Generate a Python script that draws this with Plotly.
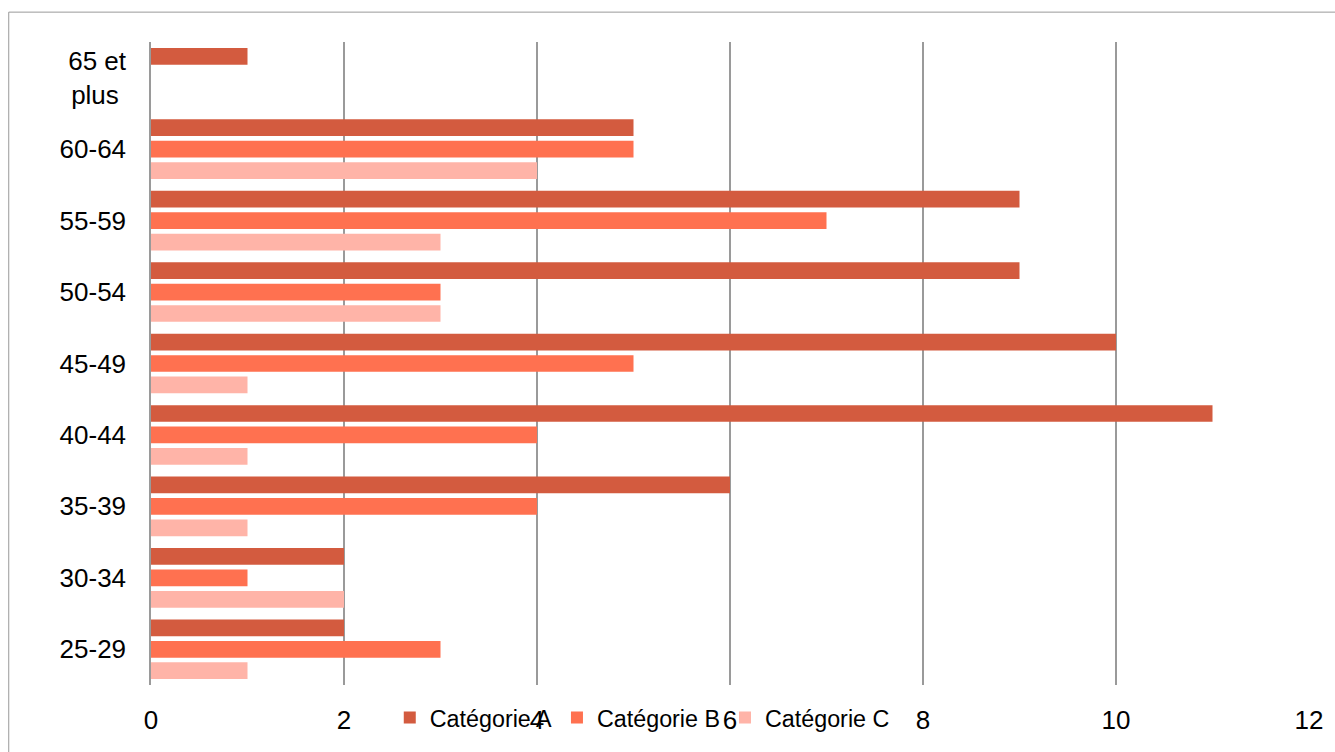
import plotly.graph_objects as go

# Age groups, bottom to top
age_groups = ["25-29", "30-34", "35-39", "40-44", "45-49", "50-54", "55-59", "60-64", "65 et<br>plus\u00a0"]

cat_a = [2, 2, 6, 11, 10, 9, 9, 5, 1]
cat_b = [3, 1, 4, 4, 5, 3, 7, 5, 0]
cat_c = [1, 2, 1, 1, 1, 3, 3, 4, 0]

series_names = ["Catégorie A", "Catégorie B", "Catégorie C"]
series_colors = ["#D35B3F", "#FF7150", "#FFB4A8"]

x_ticks = [0, 2, 4, 6, 8, 10, 12]

fig = go.Figure()
# Horizontal grouped bars: the last trace sits at the top of each group
for name, vals, color in reversed(list(zip(series_names, [cat_a, cat_b, cat_c], series_colors))):
    fig.add_trace(go.Bar(
        y=age_groups, x=vals, name=name, orientation="h",
        marker=dict(color=color, line=dict(width=0)),
    ))

W, H = 1335, 752
L, R, T, B = 151, 20, 42, 64
pw, ph = W - L - R, H - T - B

def px_to_paper_x(px):
    return (px - L) / pw

def px_to_paper_y(py):
    return (H - B - py) / ph

fig.update_layout(
    width=W, height=H,
    margin=dict(l=L, r=R, t=T, b=B, pad=0),
    paper_bgcolor="white", plot_bgcolor="white",
    barmode="group", bargap=0.10, bargroupgap=0.22,
    font=dict(family="Liberation Sans, Arial, sans-serif", size=26, color="black"),
    showlegend=True,
    legend=dict(
        orientation="h", traceorder="reversed",
        x=px_to_paper_x(391), xanchor="left",
        y=px_to_paper_y(721), yanchor="middle",
        bgcolor="rgba(0,0,0,0)",
        font=dict(size=23.3),
        itemsizing="constant",
        tracegroupgap=0,
    ),
    xaxis=dict(
        range=[0, 12], tick0=0, dtick=2, tickvals=x_ticks,
        showgrid=True, gridcolor="#9A9A9A", gridwidth=1.5,
        zeroline=False, showline=False, ticks="",
        ticklabelstandoff=17,
    ),
    yaxis=dict(
        showgrid=False, zeroline=False,
        showline=True, linecolor="#9A9A9A", linewidth=1.5,
        ticks="", ticklabelstandoff=18,
    ),
    shapes=[dict(
        type="rect", xref="paper", yref="paper",
        x0=px_to_paper_x(8), x1=px_to_paper_x(1345),
        y0=px_to_paper_y(765), y1=px_to_paper_y(12),
        line=dict(color="#999999", width=1), fillcolor="rgba(0,0,0,0)",
        layer="below",
    )],
)

fig.write_html("out.html")
